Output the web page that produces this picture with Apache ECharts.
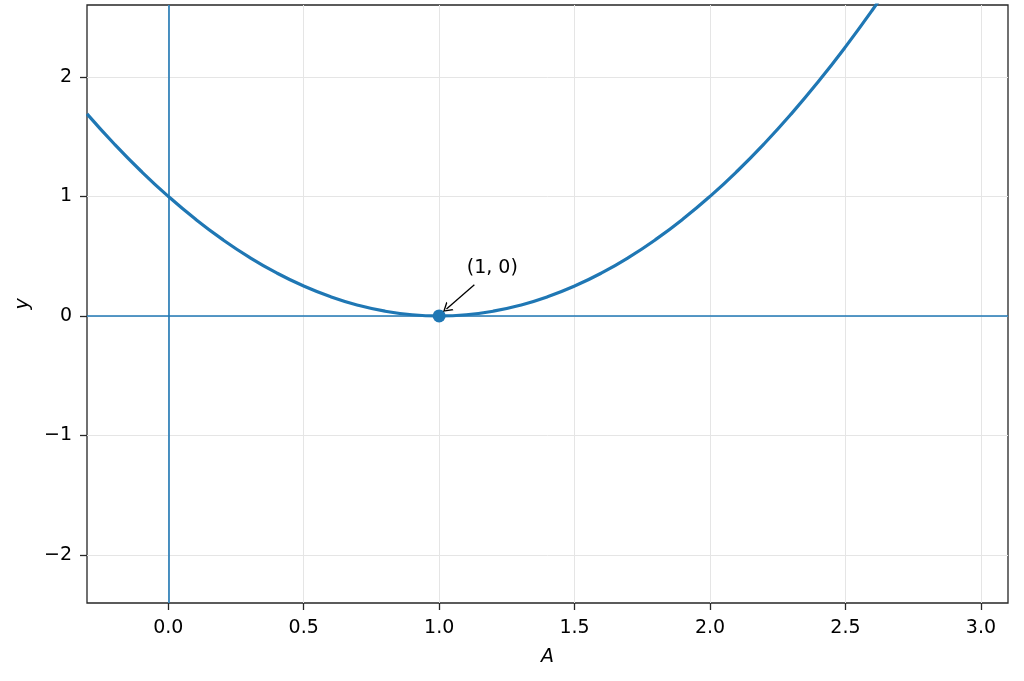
<!DOCTYPE html>
<html>
<head>
<meta charset="utf-8">
<script src="https://cdn.jsdelivr.net/npm/echarts@6/dist/echarts.min.js"></script>
<style>
html,body{margin:0;padding:0;background:#fff;}
#chart{width:1024px;height:681px;}
</style>
</head>
<body>
<div id="chart"></div>
<script>
// Curve points (A, y)
const curveX = [-0.3,-0.2,-0.1,0.0,0.1,0.2,0.3,0.4,0.5,0.6,0.7,0.8,0.9,1.0,1.1,1.2,1.3,1.4,1.5,1.6,1.7,1.8,1.9,2.0,2.1,2.2,2.3,2.4,2.5,2.6,2.7];
const curveY = [1.69,1.44,1.21,1.00,0.81,0.64,0.49,0.36,0.25,0.16,0.09,0.04,0.01,0.00,0.01,0.04,0.09,0.16,0.25,0.36,0.49,0.64,0.81,1.00,1.21,1.44,1.69,1.96,2.25,2.56,2.89];
const pointX = [1.0];
const pointY = [0.0];
const xTicks = [0.0,0.5,1.0,1.5,2.0,2.5,3.0];
const yTicks = [-2,-1,0,1,2];
const annotationText = '(1, 0)';
const annotationPos = [1.1, 0.40];
const arrowFrom = [1.13, 0.26];
const arrowTo = [1.027, 0.059];

const blue = '#1f77b4';
const font = 'DejaVu Sans';
const chart = echarts.init(document.getElementById('chart'));
const fmtY = v => v < 0 ? '\u2212' + Math.abs(v) : String(v);
const chevron = 'path://M0,10 L5,0 L10,10 L8.6,10 L5,2.8 L1.4,10 Z';

chart.setOption({
  animation: false,
  backgroundColor: '#fff',
  grid: {left: 87, right: 16, top: 5, bottom: 78, show: true, borderColor: '#262626', borderWidth: 1.3, backgroundColor: 'transparent'},
  xAxis: {
    type: 'value', min: -0.3, max: 3.1,
    name: 'A', nameLocation: 'middle', nameGap: 45,
    nameTextStyle: {fontFamily: font, fontStyle: 'italic', fontSize: 19, color: '#000'},
    axisLine: {show: false, onZero: false},
    axisTick: {show: true, length: 7, lineStyle: {color: '#262626', width: 1.3}, customValues: xTicks},
    axisLabel: {customValues: xTicks, fontFamily: font, fontSize: 19, color: '#000', margin: 16, formatter: v => v.toFixed(1)},
    splitLine: {show: true, lineStyle: {color: '#e5e5e5', width: 1}}
  },
  yAxis: {
    type: 'value', min: -2.4, max: 2.6,
    name: 'y', nameLocation: 'middle', nameGap: 54,
    nameTextStyle: {fontFamily: font, fontStyle: 'italic', fontSize: 19, color: '#000'},
    axisLine: {show: false, onZero: false},
    axisTick: {show: true, length: 7, lineStyle: {color: '#262626', width: 1.3}, customValues: yTicks},
    axisLabel: {customValues: yTicks, fontFamily: font, fontSize: 19, color: '#000', margin: 15, formatter: fmtY},
    splitLine: {show: true, lineStyle: {color: '#e5e5e5', width: 1}}
  },
  series: [
    {
      type: 'line', silent: true, showSymbol: false, symbol: 'none',
      data: [],
      markLine: {
        silent: true, symbol: 'none', label: {show: false},
        lineStyle: {color: blue, width: 1.6, type: 'solid'},
        data: [{xAxis: 0}, {yAxis: 0}]
      }
    },
    {
      type: 'line', smooth: true, showSymbol: false, symbol: 'none', clip: true,
      lineStyle: {color: blue, width: 3.2},
      data: curveX.map((x, i) => [x, curveY[i]]),
      z: 3
    },
    {
      type: 'scatter', symbolSize: 13, itemStyle: {color: blue, opacity: 1},
      data: pointX.map((x, i) => [x, pointY[i]]),
      z: 4
    },
    {
      type: 'line', silent: true, showSymbol: false, symbol: 'none',
      data: [], z: 6,
      markLine: {
        silent: true, symbol: ['none', chevron], symbolSize: [11, 9],
        label: {show: false},
        lineStyle: {color: '#000', width: 1.3, type: 'solid'},
        itemStyle: {color: '#000'},
        data: [[{coord: arrowFrom}, {coord: arrowTo}]]
      },
      markPoint: {
        silent: true, symbol: 'circle', symbolSize: 1, itemStyle: {color: 'transparent'},
        label: {show: true, position: 'right', distance: 0, formatter: annotationText, fontFamily: font, fontSize: 19, color: '#000'},
        data: [{coord: annotationPos}]
      }
    }
  ]
});
</script>
</body>
</html>
